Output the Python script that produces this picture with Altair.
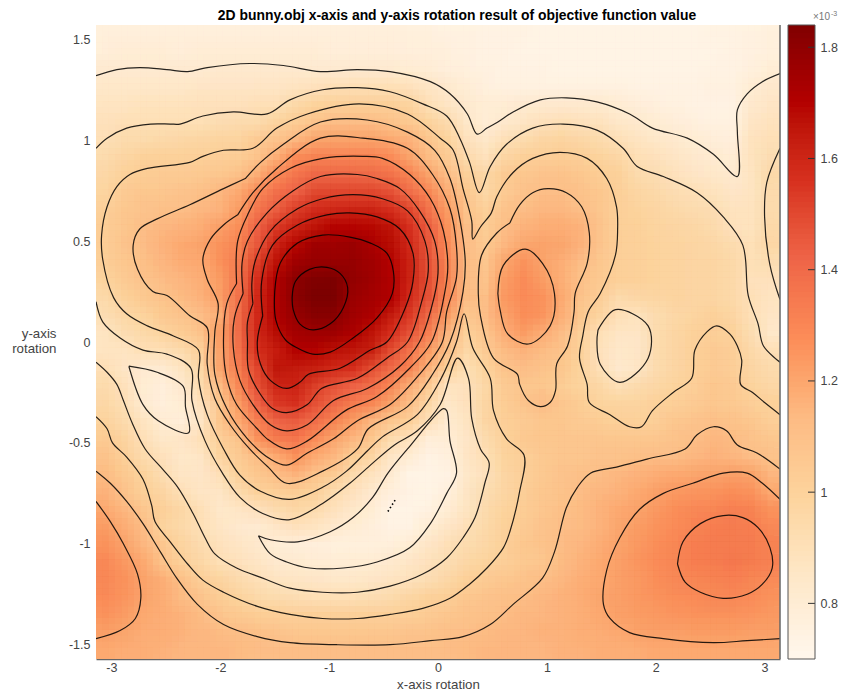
import math
import numpy as np
import pandas as pd
import altair as alt

FONT = "Liberation Sans"
TITLE = "2D bunny.obj x-axis and y-axis rotation result of objective function value"
LEVEL_COLORS = ["#fff7ec", "#fee8c8", "#fdd49e", "#fdbb84", "#fc8d59", "#ef6548", "#d7301f", "#b30000", "#7f0000"]
CBAR_MIN, CBAR_MAX = 0.70, 1.84
X_TICKS = [-3, -2, -1, 0, 1, 2, 3]
Y_TICKS = [-1.5, -1, -0.5, 0, 0.5, 1, 1.5]
CBAR_TICKS = [0.8, 1.0, 1.2, 1.4, 1.6, 1.8]

# objective value x 1e5, rows from top (y=+pi/2) to bottom, 36 columns across x
grid = [
[76,76,76,76,76,76,76,76,76,76,76,76,76,76,76,76,75,75,74,74,73,73,73,72,72,72,72,72,72,72,72,72,73,73,74,75],
[77,78,78,78,77,78,78,78,78,78,78,78,77,77,77,77,76,76,75,74,73,73,72,72,72,72,72,72,72,72,72,72,72,73,74,75],
[80,80,80,80,80,80,81,81,81,81,81,80,80,80,80,80,79,78,76,75,74,73,73,73,72,72,72,72,72,72,72,72,73,73,75,78],
[83,83,83,83,83,84,84,84,85,85,86,88,89,90,90,90,88,85,81,78,75,74,74,74,74,74,74,74,73,73,73,73,74,74,79,82],
[86,86,87,87,87,88,88,88,89,90,94,98,99,100,100,100,97,90,85,81,78,79,80,81,81,81,81,79,77,75,74,73,73,73,82,85],
[88,89,90,90,90,90,91,92,93,97,102,107,110,110,110,108,104,98,92,83,78,82,85,88,89,88,87,83,81,79,77,75,74,74,85,87],
[90,93,93,94,95,96,97,97,103,107,113,119,120,120,120,118,115,106,98,88,83,89,92,96,97,95,93,89,86,83,81,79,77,76,87,89],
[93,96,99,99,99,100,101,102,108,116,127,130,130,130,130,127,120,112,103,93,88,96,100,101,102,101,98,95,90,88,85,82,80,79,87,91],
[95,99,102,103,103,104,105,109,117,127,135,140,140,140,139,136,130,120,110,100,95,103,105,107,108,105,102,99,93,91,88,85,83,81,86,94],
[97,103,105,106,107,109,113,118,128,137,142,149,150,150,150,147,138,129,117,105,95,103,108,110,110,108,105,100,96,94,91,90,87,84,86,93],
[100,105,107,109,110,113,115,122,135,143,152,157,159,160,160,156,150,136,122,108,100,108,111,113,113,110,105,100,98,96,94,92,91,87,87,93],
[102,106,110,113,115,117,121,126,142,153,160,165,169,169,168,165,155,143,125,110,102,110,115,117,117,115,107,100,99,97,96,95,93,88,87,94],
[102,107,111,115,118,120,125,130,145,160,168,175,175,176,172,167,158,145,127,111,104,113,119,120,119,115,107,101,99,98,97,96,95,92,89,95],
[101,105,109,114,117,118,125,133,152,166,174,177,177,177,174,169,160,146,129,112,106,119,125,120,116,111,105,100,99,98,97,96,96,94,89,91],
[98,103,107,111,114,116,122,135,156,170,180,183,184,178,175,170,160,147,130,112,108,122,127,122,116,109,104,100,99,98,97,96,96,94,88,88],
[94,99,104,108,112,115,121,136,158,170,180,184,184,176,173,170,157,146,128,112,110,123,127,125,118,108,101,93,95,96,97,96,96,94,89,86],
[91,95,98,104,107,110,117,138,158,170,177,181,181,174,171,163,153,139,122,105,110,120,126,124,116,105,97,89,87,92,95,97,99,96,89,85],
[86,91,94,97,102,108,122,138,158,167,173,175,175,171,165,156,146,131,114,99,106,117,122,117,111,100,90,85,85,92,96,99,101,99,91,83],
[86,86,90,90,93,100,120,136,156,162,169,169,166,164,161,148,136,122,109,95,103,112,115,112,108,99,88,83,84,92,96,100,103,101,94,89],
[89,84,80,80,86,95,119,133,150,164,163,161,158,156,148,139,130,115,99,90,98,108,110,108,105,98,89,82,85,92,96,100,103,101,96,93],
[93,88,79,76,81,92,112,128,147,159,160,152,146,142,137,128,117,103,86,88,95,103,105,105,102,98,95,89,93,95,98,101,105,103,98,95],
[95,90,80,76,79,88,105,122,141,153,155,147,140,133,129,120,110,95,83,88,96,102,107,111,106,102,98,97,97,99,101,103,105,104,101,99],
[98,93,86,79,77,85,105,118,131,141,143,138,130,122,114,105,100,89,80,86,96,101,103,105,105,103,102,100,99,101,105,107,109,108,105,101],
[103,97,89,83,84,89,100,108,125,133,135,127,120,114,105,93,87,77,78,84,92,99,104,105,106,106,106,105,105,106,108,110,113,112,108,105],
[108,100,93,88,83,85,97,103,112,118,125,118,113,102,96,85,79,73,75,85,90,98,100,104,106,106,107,108,109,110,111,113,115,114,110,108],
[112,104,98,91,85,84,89,99,105,110,115,108,103,93,87,80,72,72,73,83,88,96,101,104,107,109,111,113,115,117,118,119,120,121,120,114],
[115,108,100,96,89,85,85,93,99,101,102,100,92,88,81,76,73,72,75,85,91,96,101,105,108,111,113,115,118,121,123,124,125,126,125,118],
[118,113,106,100,95,89,83,85,88,92,95,93,88,83,79,72,72,74,79,86,93,98,102,106,109,112,115,118,120,123,126,128,129,131,130,125],
[122,117,110,98,94,90,85,81,80,84,88,86,82,79,76,73,73,79,84,89,94,99,103,107,110,112,115,119,122,125,127,130,132,133,132,128],
[125,120,113,106,97,92,88,85,82,78,77,76,75,75,75,76,79,84,89,92,95,100,105,108,111,114,117,120,123,126,129,132,133,133,133,130],
[128,123,118,108,100,95,90,88,85,81,80,79,78,79,79,81,84,88,91,95,98,101,104,106,112,115,118,121,124,127,129,132,133,134,133,131],
[128,125,120,116,109,101,97,93,89,86,85,84,83,83,84,86,88,91,95,100,103,105,108,110,113,116,118,121,123,126,128,129,130,131,129,127],
[127,124,120,117,112,107,102,98,94,92,91,90,90,90,91,93,96,99,101,105,107,109,111,113,115,117,119,121,123,125,126,127,128,128,127,125],
[125,122,118,117,115,112,107,104,102,101,100,100,100,100,100,100,101,103,106,108,109,111,113,114,115,116,118,121,122,123,124,125,125,125,124,123],
[121,119,117,116,115,113,112,110,109,107,106,105,105,105,106,106,107,108,109,110,112,113,114,115,115,116,117,118,120,121,121,122,122,122,121,121],
[118,117,116,115,114,113,113,112,111,111,110,110,110,110,110,110,110,110,111,112,113,114,114,114,115,115,116,116,117,118,118,118,118,118,118,118],
]

# contour paths, read in axis units
c180_x = [-1.34,-1.31,-1.18,-1.02,-.90,-.83,-.87,-.99,-1.15,-1.27,-1.33,-1.34]
c180_y = [.22,.30,.36,.37,.34,.27,.17,.09,.06,.09,.16,.22]
c170_x = [-1.50,-1.45,-1.29,-1.06,-.81,-.62,-.47,-.41,-.42,-.56,-.78,-.99,-1.15,-1.29,-1.40,-1.49,-1.50]
c170_y = [.25,.39,.49,.53,.52,.49,.44,.35,.24,.12,.02,-.05,-.06,-.03,.01,.11,.25]
c160_x = [-1.61,-1.62,-1.52,-1.29,-1.02,-.81,-.56,-.35,-.23,-.23,-.30,-.47,-.62,-.90,-1.19,-1.27,-1.39,-1.54,-1.63,-1.66,-1.61]
c160_y = [.13,.30,.48,.58,.63,.64,.62,.56,.44,.30,.17,.00,-.04,-.13,-.16,-.20,-.23,-.19,-.11,.00,.13]
c150_x = [-1.70,-1.71,-1.68,-1.54,-1.29,-1.06,-.78,-.51,-.28,-.12,-.09,-.15,-.28,-.47,-.74,-1.07,-1.20,-1.39,-1.52,-1.63,-1.74,-1.75,-1.75,-1.70]
c150_y = [.19,.29,.40,.55,.66,.71,.73,.71,.65,.50,.35,.20,.00,-.08,-.18,-.23,-.31,-.35,-.33,-.26,-.14,.00,.10,.19]
c140_x = [-1.79,-1.80,-1.75,-1.57,-1.33,-1.08,-.74,-.56,-.35,-.17,-.03,.00,-.06,-.17,-.35,-.65,-.96,-1.20,-1.39,-1.54,-1.70,-1.82,-1.88,-1.87,-1.79]
c140_y = [.24,.39,.50,.64,.75,.82,.83,.81,.76,.65,.50,.34,.17,.00,-.12,-.23,-.29,-.41,-.44,-.41,-.31,-.19,-.03,.12,.24]
c130_x = [-1.85,-1.84,-1.74,-1.61,-1.36,-1.06,-.69,-.51,-.26,-.07,.05,.09,.06,-.06,-.26,-.56,-.85,-1.20,-1.39,-1.57,-1.66,-1.85,-1.94,-1.97,-1.94,-1.85]
c130_y = [.29,.50,.64,.76,.86,.91,.92,.91,.83,.71,.55,.37,.24,.00,-.13,-.27,-.34,-.49,-.53,-.48,-.43,-.31,-.18,-.03,.19,.29]
c120_x = [-1.84,-1.70,-1.48,-1.08,-.69,-.28,-.05,.11,.17,.17,.08,.04,-.17,-.44,-.74,-.96,-1.20,-1.39,-1.54,-1.75,-1.94,-2.05,-2.05,-2.02,-2.12,-2.16,-2.09,-1.97,-1.84]
c120_y = [.63,.74,.86,1.01,1.01,.96,.83,.66,.47,.32,.15,.00,-.16,-.31,-.39,-.48,-.55,-.61,-.58,-.48,-.33,-.16,.05,.19,.31,.41,.51,.58,.63]
c110_x = [-1.77,-1.63,-1.42,-1.08,-.65,-.28,-.03,.11,.20,.25,.23,.11,-.05,-.28,-.64,-.74,-1.06,-1.39,-1.56,-1.73,-1.91,-2.05,-2.12,-2.12,-2.28,-2.49,-2.62,-2.76,-2.80,-2.74,-2.58,-2.28,-1.97,-1.77]
c110_y = [.81,.89,.98,1.09,1.10,1.04,.95,.81,.61,.40,.25,.00,-.16,-.32,-.43,-.53,-.64,-.70,-.62,-.53,-.41,-.28,-.11,.07,.13,.23,.25,.36,.48,.56,.61,.68,.76,.81]
c100_x = [-3.1416,-3.04,-2.99,-2.86,-2.71,-2.63,-2.60,-2.46,-2.30,-2.16,-1.97,-1.66,-1.36,-1.06,-.74,-.44,-.14,.11,.29,.45,.60,.66,.75,.79,.63,.51,.48,.32,.24,.17,.02,-.19,-.51,-.65,-.84,-1.06,-1.36,-1.63,-1.82,-1.97,-2.12,-2.20,-2.20,-2.43,-2.67,-2.86,-2.98,-3.08,-3.09,-3.04,-2.95,-2.83,-2.67,-2.28,-2.16,-1.97,-1.70,-1.48,-1.20,-.72,-.28,.02,.14,.23,.31,.32,.39,.49,.54,.69,.87,1.12,1.37,1.55,1.64,1.65,1.63,1.49,1.38,1.33,1.30,1.37,1.39,1.58,1.76,1.87,1.97,2.16,2.33,2.36,2.47,2.56,2.68,2.75,2.79,2.78,2.89,3.00,3.1416]
c100_y = [-.37,-.43,-.50,-.57,-.68,-.81,-.89,-.99,-1.10,-1.18,-1.24,-1.31,-1.35,-1.37,-1.37,-1.35,-1.32,-1.27,-1.20,-1.12,-1.02,-.94,-.74,-.56,-.48,-.34,-.18,-.03,.14,.00,-.19,-.36,-.47,-.54,-.64,-.72,-.78,-.74,-.66,-.53,-.36,-.18,-.04,.03,.08,.14,.22,.41,.53,.67,.77,.83,.86,.89,.92,.95,.96,1.06,1.13,1.18,1.13,1.01,.95,.76,.60,.51,.57,.64,.72,.84,.91,.94,.91,.81,.67,.56,.43,.24,.15,.03,-.08,-.21,-.30,-.36,-.42,-.42,-.34,-.25,-.18,-.04,.05,.08,.04,-.02,-.09,-.21,-.25,-.30,-.36]
c90a_x = [-3.1416,-3.04,-2.86,-2.64,-2.46,-2.37,-2.16,-1.88,-1.57,-1.36,-1.06,-.74,-.44,-.14,.08,.20,.29,.38,.48,.63,.87,1.15,1.46,1.70,1.83,2.07,2.38,2.62,2.80,2.85,2.94,2.99,3.1416]
c90a_y = [.96,1.01,1.06,1.08,1.08,1.08,1.12,1.14,1.13,1.20,1.25,1.26,1.24,1.18,1.12,1.01,.89,.74,.87,.98,1.06,1.08,1.05,.96,.87,.82,.74,.62,.48,.23,.09,-.02,-.10]
c90b_x = [-3.1416,-3.04,-2.95,-2.89,-2.81,-2.69,-2.53,-2.39,-2.25,-2.14,-2.05,-1.85,-1.61,-1.36,-1.06,-.74,-.44,-.14,.08,.23,.34,.43,.47,.39,.31,.28,.18,.02,-.19,-.40,-.60,-.81,-1.06,-1.36,-1.61,-1.82,-1.98,-2.14,-2.26,-2.27,-2.49,-2.71,-2.92,-3.08,-3.1416]
c90b_y = [-.10,-.15,-.21,-.29,-.40,-.53,-.63,-.72,-.85,-.97,-1.05,-1.12,-1.17,-1.22,-1.24,-1.24,-1.21,-1.15,-1.07,-.97,-.87,-.70,-.60,-.53,-.38,-.18,-.08,-.31,-.44,-.51,-.60,-.70,-.80,-.88,-.85,-.77,-.65,-.49,-.29,-.13,-.06,-.04,.02,.10,.20]
c90c_x = [3.1416,3.05,3.00,3.02,3.1416]
c90c_y = [.21,.38,.62,.79,.96]
c80a_x = [-3.1416,-2.95,-2.74,-2.49,-2.30,-2.12,-1.73,-1.42,-1.08,-.74,-.44,-.07,.11,.27,.36,.45,.55,.69,.94,1.18,1.46,1.76,1.97,2.29,2.53,2.75,2.75,2.75,2.84,2.98,3.1416]
c80a_y = [1.32,1.35,1.36,1.35,1.34,1.36,1.38,1.37,1.34,1.35,1.34,1.29,1.23,1.13,1.03,1.06,1.09,1.14,1.20,1.21,1.19,1.13,1.06,1.01,.93,.82,1.04,1.15,1.23,1.29,1.33]
c80b_x = [-1.65,-1.54,-1.29,-.99,-.78,-.60,-.46,-.28,.05,.08,.11,.17,.08,-.07,-.26,-.56,-.87,-1.18,-1.39,-1.54,-1.65]
c80b_y = [-.96,-.98,-.99,-.94,-.87,-.77,-.65,-.53,-.33,-.34,-.49,-.65,-.75,-.90,-1.02,-1.09,-1.12,-1.12,-1.09,-1.05,-.96]
c80c_x = [-2.84,-2.58,-2.34,-2.32,-2.29,-2.57,-2.71,-2.84]
c80c_y = [-.12,-.15,-.22,-.32,-.45,-.39,-.31,-.12]
c90d_x = [1.47,1.63,1.93,1.93,1.67,1.49,1.46,1.47]
c90d_y = [.06,.16,.08,-.08,-.20,-.11,.00,.06]
c110b_x = [.66,.75,.87,1.01,1.18,1.32,1.39,1.37,1.26,1.25,1.19,1.09,1.08,1.03,.94,.83,.75,.73,.51,.39,.37,.40,.54,.66]
c110b_y = [.59,.68,.74,.76,.74,.67,.54,.39,.24,.15,-.02,-.11,-.24,-.30,-.32,-.29,-.21,-.16,-.08,.13,.24,.43,.54,.59]
c120b_x = [.55,.60,.80,.96,1.07,1.03,.83,.64,.57,.55]
c120b_y = [.24,.38,.46,.39,.24,.08,-.01,.04,.16,.24]
c110c_x = [-3.1416,-3.01,-2.86,-2.71,-2.55,-2.40,-2.21,-1.97,-1.66,-1.36,-.93,-.44,-.07,.23,.48,.69,.96,1.07,1.18,1.28,1.40,1.64,1.92,2.27,2.38,2.53,2.65,2.75,2.93,3.1416]
c110c_y = [-.64,-.70,-.79,-.90,-1.04,-1.17,-1.30,-1.40,-1.46,-1.49,-1.50,-1.50,-1.48,-1.46,-1.40,-1.30,-1.17,-1.04,-.82,-.72,-.65,-.62,-.58,-.53,-.46,-.42,-.44,-.51,-.55,-.63]
c120c_x = [-3.1416,-3.01,-2.89,-2.76,-2.73,-2.78,-2.92,-3.1416]
c120c_y = [-.79,-.89,-1.00,-1.15,-1.27,-1.37,-1.43,-1.47]
c120d_x = [3.1416,2.84,2.53,2.07,1.76,1.58,1.52,1.55,1.67,1.85,2.07,2.34,2.62,2.84,2.98,3.1416]
c120d_y = [-1.47,-1.48,-1.49,-1.47,-1.44,-1.37,-1.30,-1.13,-.97,-.83,-.75,-.70,-.65,-.65,-.70,-.78]
c130b_x = [2.20,2.25,2.41,2.62,2.80,2.94,3.05,3.07,2.98,2.84,2.62,2.41,2.27,2.20]
c130b_y = [-1.10,-.99,-.90,-.86,-.87,-.92,-1.02,-1.12,-1.20,-1.25,-1.27,-1.24,-1.19,-1.10]
c70_x = [-.46,-.39]
c70_y = [-.84,-.78]

paths = [
    (c180_x, c180_y), (c170_x, c170_y), (c160_x, c160_y), (c150_x, c150_y), (c140_x, c140_y),
    (c130_x, c130_y), (c120_x, c120_y), (c110_x, c110_y), (c100_x, c100_y), (c90a_x, c90a_y),
    (c90b_x, c90b_y), (c90c_x, c90c_y), (c80a_x, c80a_y), (c80b_x, c80b_y), (c80c_x, c80c_y),
    (c90d_x, c90d_y), (c110b_x, c110b_y), (c120b_x, c120b_y), (c110c_x, c110c_y), (c120c_x, c120c_y),
    (c120d_x, c120d_y), (c130b_x, c130b_y),
]

dx, dy = math.pi / 18, math.pi / 36
heat_rows = []
for j, row in enumerate(grid):
    for i, v in enumerate(row):
        heat_rows.append({
            "x0": -math.pi + i * dx, "x1": -math.pi + (i + 1) * dx,
            "y0": math.pi / 2 - j * dy, "y1": math.pi / 2 - (j + 1) * dy,
            "v": v / 100,
        })
heat = pd.DataFrame(heat_rows)

line_rows = []
for pid, (xs, ys) in enumerate(paths):
    for k, (x, y) in enumerate(zip(xs, ys)):
        line_rows.append({"x": x, "y": y, "id": pid, "k": k})
lines = pd.DataFrame(line_rows)
dots = pd.DataFrame({"x": c70_x, "y": c70_y, "k": [0, 1]})

stops = list(np.linspace(CBAR_MIN, CBAR_MAX, len(LEVEL_COLORS)))
color = alt.Color("v:Q", scale=alt.Scale(domain=stops, range=LEVEL_COLORS), legend=None)
sx = alt.Scale(domain=[-math.pi, math.pi], nice=False, zero=False)
sy = alt.Scale(domain=[-math.pi / 2, math.pi / 2], nice=False, zero=False)

TEXT = "#444444"
FRAME = "#666666"
axx = alt.Axis(values=X_TICKS, labelExpr="'' + datum.value", title="x-axis rotation", grid=False, ticks=False,
               domainColor=FRAME, domainWidth=1.5, labelColor=TEXT, titleColor=TEXT, labelFont=FONT, titleFont=FONT,
               labelFontSize=12.5, titleFontSize=13.3, titleFontWeight="normal", labelPadding=2, titlePadding=3.5)
axy = alt.Axis(values=Y_TICKS, labelExpr="'' + datum.value", title=["y-axis", "rotation"], grid=False, ticks=False,
               domain=False, labelColor=TEXT, titleColor=TEXT, labelFont=FONT, titleFont=FONT, labelFontSize=12.5,
               titleFontSize=13.3, titleFontWeight="normal", titleAngle=0, titleAlign="right", titleBaseline="middle",
               titleX=-40, titleY=308, labelPadding=6)


def heat_layer(ox, oy, op):
    return alt.Chart(heat).mark_rect(clip=True, opacity=op, xOffset=ox, x2Offset=ox, yOffset=oy, y2Offset=oy).encode(
        x=alt.X("x0:Q", scale=sx, axis=axx),
        x2="x1:Q",
        y=alt.Y("y0:Q", scale=sy, axis=axy),
        y2="y1:Q",
        color=color,
    )


# the same cells drawn several times, slightly shifted and see-through, to soften the cell edges
heat_layers = [heat_layer(0, 0, 1)]
n = 0
for oy in (-5.9, 0, 5.9):
    for ox in (-6.3, 0, 6.3):
        n += 1
        heat_layers.append(heat_layer(ox, oy, 1 / n))

contours = alt.Chart(lines).mark_line(color="#000000", strokeWidth=1.2, opacity=0.85, interpolate="catmull-rom", clip=True).encode(
    x=alt.X("x:Q", scale=sx, axis=axx), y=alt.Y("y:Q", scale=sy, axis=axy), detail="id:N", order="k:Q")
dotted = alt.Chart(dots).mark_line(color="#000000", strokeWidth=1.6, strokeDash=[1.5, 2.5]).encode(
    x=alt.X("x:Q", scale=sx, axis=axx), y=alt.Y("y:Q", scale=sy, axis=axy), order="k:Q")
edge = alt.Chart(pd.DataFrame({"x": [math.pi], "a": [-math.pi / 2], "b": [math.pi / 2]})).mark_rule(color=FRAME, strokeWidth=1.5).encode(
    x=alt.X("x:Q", scale=sx, axis=axx), y=alt.Y("a:Q", scale=sy, axis=axy), y2="b:Q")

main = alt.layer(*heat_layers, contours, dotted, edge).properties(
    width=684, height=634,
    title=alt.TitleParams(TITLE, font=FONT, fontSize=13.9, fontWeight="bold", color="#000000", anchor="middle", dx=19, offset=1),
)

edges = np.linspace(CBAR_MIN, CBAR_MAX, 121)
step = edges[1] - edges[0]
bar = pd.DataFrame({"v": (edges[:-1] + edges[1:]) / 2, "a": edges[:-1], "b": np.minimum(edges[1:] + step / 2, CBAR_MAX)})
cy = alt.Scale(domain=[CBAR_MIN, CBAR_MAX], nice=False, zero=False)
cax = alt.Axis(orient="right", values=CBAR_TICKS, labelExpr="'' + datum.value", title=None, grid=False,
               ticks=False, domain=False, labelColor=TEXT, labelFont=FONT, labelFontSize=12.5, labelPadding=5)
bar_cells = alt.Chart(bar).mark_rect().encode(
    x=alt.value(0), x2=alt.value(27), y=alt.Y("a:Q", scale=cy, axis=cax), y2="b:Q", color=color,
    order=alt.Order("v:Q", sort="descending"))
bar_ticks = alt.Chart(pd.DataFrame({"t": CBAR_TICKS})).mark_rule(color="#333333", strokeWidth=1).encode(
    x=alt.value(20), x2=alt.value(27), y=alt.Y("t:Q", scale=cy, axis=cax))
bar_frame = alt.Chart(pd.DataFrame({"a": [0]})).mark_rect(fillOpacity=0, stroke="#555555", strokeWidth=1).encode(
    x=alt.value(0), x2=alt.value(27), y=alt.value(0), y2=alt.value(634))
mult = alt.Chart(pd.DataFrame({"t": ["\u00d710"]})).mark_text(font=FONT, fontSize=10, color="#777777", align="left", baseline="middle").encode(
    text="t:N", x=alt.value(25), y=alt.value(-8))
expo = alt.Chart(pd.DataFrame({"t": ["-3"]})).mark_text(font=FONT, fontSize=7, color="#777777", align="left", baseline="middle").encode(
    text="t:N", x=alt.value(43), y=alt.value(-11))
colorbar = alt.layer(bar_cells, bar_ticks, bar_frame, mult, expo).properties(width=27, height=634)

chart = alt.hconcat(main, colorbar, spacing=6).configure_view(stroke=None).properties(
    padding={"left": 3, "top": 1, "right": 0, "bottom": 0})

chart.save("out.html", embed_options={"renderer": "svg", "actions": False})
